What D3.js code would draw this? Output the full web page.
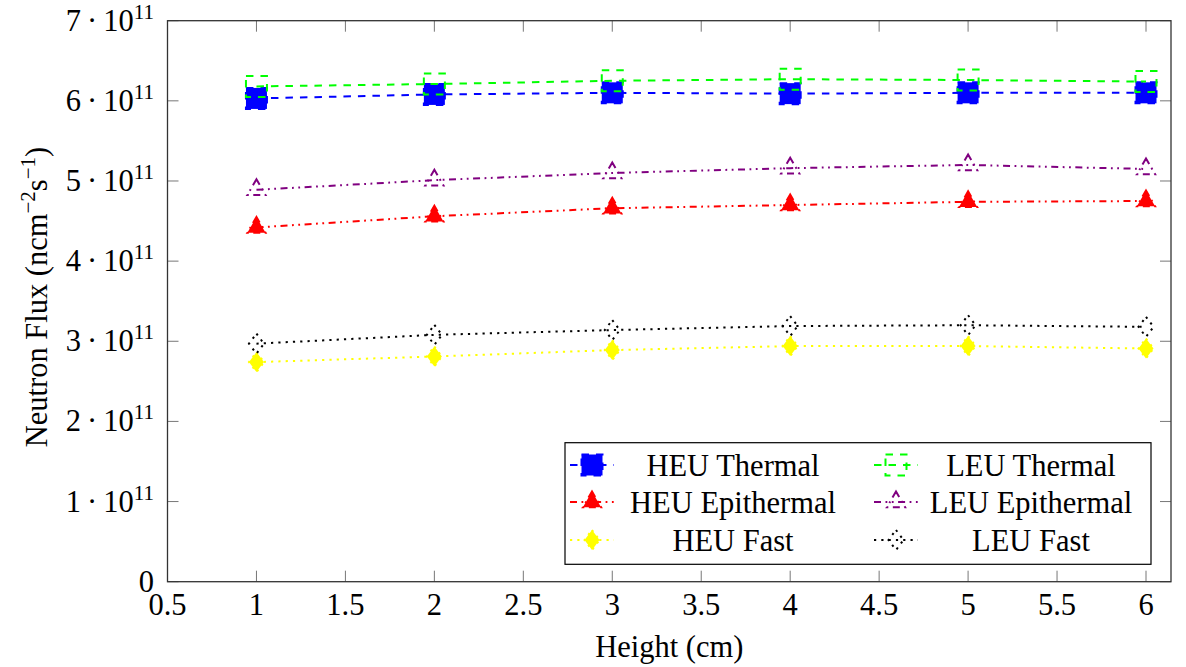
<!DOCTYPE html>
<html><head><meta charset="utf-8">
<script src="https://cdn.jsdelivr.net/npm/d3@7"></script>
<style>
body{margin:0;background:#fff}
text{font-family:"Liberation Serif","Times New Roman",serif;fill:#000}
</style>
</head><body>
<svg id="c" width="1186" height="667"></svg>
<script>
// ---- data ----
const heights = [1, 2, 3, 4, 5, 6];
const heuThermal    = [6.03e11, 6.08e11, 6.10e11, 6.09e11, 6.10e11, 6.10e11];
const leuThermal    = [6.18e11, 6.21e11, 6.25e11, 6.27e11, 6.26e11, 6.24e11];
const heuEpithermal = [4.42e11, 4.56e11, 4.66e11, 4.70e11, 4.74e11, 4.75e11];
const leuEpithermal = [4.89e11, 5.01e11, 5.10e11, 5.16e11, 5.20e11, 5.15e11];
const heuFast       = [2.74e11, 2.81e11, 2.89e11, 2.94e11, 2.94e11, 2.91e11];
const leuFast       = [2.97e11, 3.08e11, 3.14e11, 3.19e11, 3.20e11, 3.18e11];
const xTicks = [0.5, 1, 1.5, 2, 2.5, 3, 3.5, 4, 4.5, 5, 5.5, 6];
const xTickLabels = ["0.5","1","1.5","2","2.5","3","3.5","4","4.5","5","5.5","6"];
const yTicks = [0, 1e11, 2e11, 3e11, 4e11, 5e11, 6e11, 7e11];
const yTickMantissa = ["0","1","2","3","4","5","6","7"];
const seriesNames = ["HEU Thermal","LEU Thermal","HEU Epithermal","LEU Epithermal","HEU Fast","LEU Fast"];
const yDomain = [0, 7e11];

// ---- styles ----
const FS = 30.5, SUP = 21;
const dashed = "7.5,7";
const dashdotdot = "7,4.5,1.8,4.5,1.8,4.5";
const dotted = "2.2,5.1";
const series = [
  {name:seriesNames[0], vals:heuThermal,    color:"#0000ff", dash:dashed,     mark:"square",   fill:true},
  {name:seriesNames[2], vals:heuEpithermal, color:"#ff0000", dash:dashdotdot, mark:"triangle", fill:true},
  {name:seriesNames[4], vals:heuFast,       color:"#ffff00", dash:dotted,     mark:"diamond",  fill:true},
  {name:seriesNames[1], vals:leuThermal,    color:"#00ff00", dash:dashed,     mark:"square",   fill:false},
  {name:seriesNames[3], vals:leuEpithermal, color:"#800080", dash:dashdotdot, mark:"triangle", fill:false},
  {name:seriesNames[5], vals:leuFast,       color:"#000000", dash:dotted,     mark:"diamond",  fill:false}
];
const drawOrder = [0,3,1,4,2,5];

const L = 167.5, R = 1171, T = 20.7, B = 581.7;
const pxPerUnit = (1146 - 167.5) / 5.5;
const x = d3.scaleLinear().domain([0.5, 0.5 + (R - L) / pxPerUnit]).range([L, R]);
const y = d3.scaleLinear().domain(yDomain).range([B, T]);

const svg = d3.select("#c");

function markPath(type){
  if(type==="square"){ const h=10.5; return `M${-h},${-h}H${h}V${h}H${-h}Z`; }
  if(type==="triangle"){ const r=10.5; const a=[90,210,330].map(t=>[r*Math.cos(t*Math.PI/180), -r*Math.sin(t*Math.PI/180)]);
    return `M${a[0][0]},${a[0][1]}L${a[1][0]},${a[1][1]}L${a[2][0]},${a[2][1]}Z`; }
  const hh=10, hw=7.5; return `M0,${-hh}L${hw},0L0,${hh}L${-hw},0Z`;
}

// ticks (inside, all four sides)
const tickLen = 11;
const g = svg.append("g");
xTicks.forEach(v=>{
  g.append("line").attr("x1",x(v)).attr("x2",x(v)).attr("y1",B).attr("y2",B-tickLen).attr("stroke","#777").attr("stroke-width",1);
  g.append("line").attr("x1",x(v)).attr("x2",x(v)).attr("y1",T).attr("y2",T+tickLen).attr("stroke","#777").attr("stroke-width",1);
});
yTicks.forEach(v=>{
  g.append("line").attr("x1",L).attr("x2",L+tickLen).attr("y1",y(v)).attr("y2",y(v)).attr("stroke","#777").attr("stroke-width",1);
  g.append("line").attr("x1",R).attr("x2",R-tickLen).attr("y1",y(v)).attr("y2",y(v)).attr("stroke","#777").attr("stroke-width",1);
});

// series
drawOrder.forEach(i=>{
  const s = series[i];
  const pts = heights.map((h,j)=>[x(h), y(s.vals[j])]);
  svg.append("path").attr("d", d3.line()(pts)).attr("fill","none")
    .attr("stroke", s.color).attr("stroke-width", 2).attr("stroke-dasharray", s.dash);
  svg.append("g").selectAll("path").data(pts).join("path")
    .attr("transform", d=>`translate(${d[0]},${d[1]})`)
    .attr("d", markPath(s.mark))
    .attr("fill", s.fill ? s.color : "none")
    .attr("stroke", s.color).attr("stroke-width", 2).attr("stroke-dasharray", s.dash);
});

// frame
svg.append("rect").attr("x",L).attr("y",T).attr("width",R-L).attr("height",B-T)
  .attr("fill","none").attr("stroke","#333").attr("stroke-width",1.3);

// tick labels
xTicks.forEach((v,i)=>{
  svg.append("text").attr("x",x(v)).attr("y",615).attr("text-anchor","middle")
    .attr("font-size",FS).text(xTickLabels[i]);
});
yTicks.forEach((v,i)=>{
  const t = svg.append("text").attr("x",154).attr("y",y(v)+10).attr("text-anchor","end").attr("font-size",FS);
  if(v===0){ t.text(yTickMantissa[i]); return; }
  t.append("tspan").text(yTickMantissa[i] + "\u2009\u00b7\u200910");
  t.append("tspan").attr("font-size",SUP).attr("dy",-12).text("11");
});

// axis labels
svg.append("text").attr("x",(L+R)/2).attr("y",657).attr("text-anchor","middle").attr("font-size",FS).text("Height (cm)");
const yl = svg.append("text").attr("transform","translate(47,297) rotate(-90)").attr("text-anchor","middle").attr("font-size",FS);
yl.append("tspan").text("Neutron Flux (ncm");
yl.append("tspan").attr("font-size",SUP).attr("dy",-12).text("\u22122");
yl.append("tspan").attr("dy",12).text("s");
yl.append("tspan").attr("font-size",SUP).attr("dy",-12).text("\u22121");
yl.append("tspan").attr("dy",12).text(")");

// legend
const lg = svg.append("g");
lg.append("rect").attr("x",565).attr("y",442.7).attr("width",586).attr("height",121.6)
  .attr("fill","#fff").attr("stroke","#000").attr("stroke-width",1.2);
const cols = [{mx:592, tx:733}, {mx:896, tx:1031}];
const rows = [465, 502, 540];
const legendOrder = [[0,3],[1,4],[2,5]];
legendOrder.forEach((pair,r)=>{
  pair.forEach((si,c)=>{
    const s = series[si];
    const cy = rows[r], cx = cols[c].mx;
    lg.append("line").attr("x1",cx-22).attr("x2",cx+22).attr("y1",cy).attr("y2",cy)
      .attr("stroke",s.color).attr("stroke-width",2).attr("stroke-dasharray",s.dash);
    lg.append("path").attr("transform",`translate(${cx},${cy})`).attr("d",markPath(s.mark))
      .attr("fill", s.fill ? s.color : "none").attr("stroke",s.color).attr("stroke-width",2).attr("stroke-dasharray",s.dash);
    lg.append("text").attr("x",cols[c].tx).attr("y",cy+10.5).attr("text-anchor","middle").attr("font-size",FS).text(s.name);
  });
});
</script>
</body></html>
